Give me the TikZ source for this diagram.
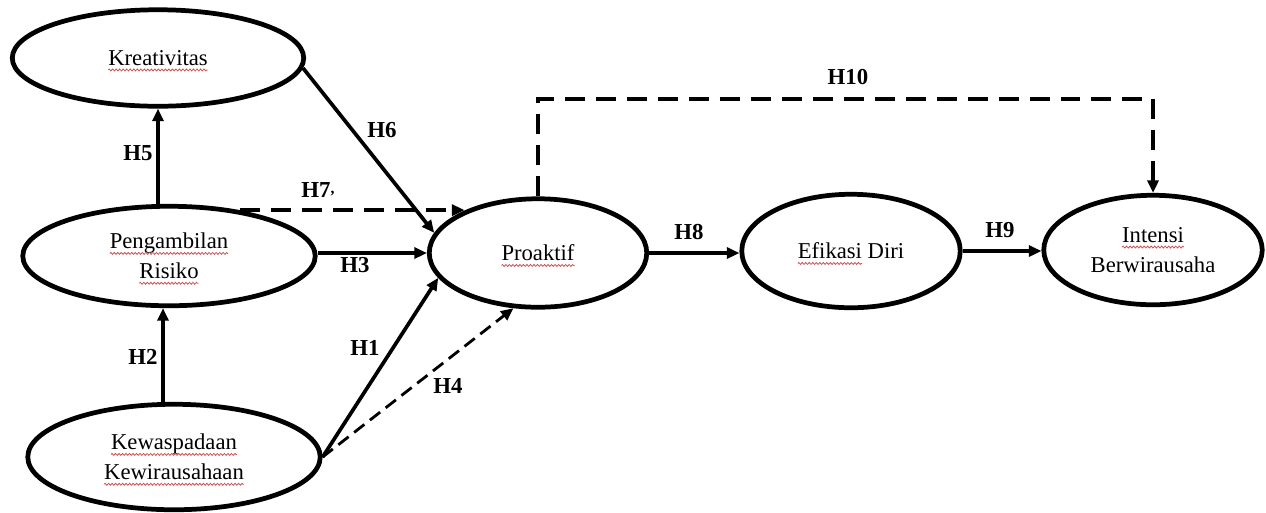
\documentclass[tikz,border=0pt]{standalone}
\usepackage{fontspec}
\setmainfont{Liberation Serif}
\usetikzlibrary{shapes.geometric,arrows.meta,calc,decorations.pathmorphing}
\definecolor{spellred}{RGB}{205,80,80}
\newsavebox\splbox
\newcommand\spl[1]{\sbox\splbox{#1}\leavevmode\rlap{\usebox\splbox}\tikz[overlay,baseline=0pt]\draw[spellred,line width=0.45pt,decorate,decoration={zigzag,segment length=2pt,amplitude=0.55pt}] (0pt,-2.6pt) -- (\wd\splbox,-2.6pt);\hspace*{\wd\splbox}}
\begin{document}
\begin{tikzpicture}[x=0.02cm,y=-0.02cm,
  var/.style={ellipse, draw, line width=2.7pt, inner sep=0pt, align=center,
    font=\fontsize{12.9}{17}\selectfont},
  lab/.style={font=\fontsize{13}{15}\selectfont\bfseries, inner sep=0pt},
  arr/.style={line width=2.1pt, -{Triangle[length=0.25cm,width=0.22cm]}},
  dsh/.style={dash pattern=on 0.4cm off 0.22cm},
  dshthin/.style={line width=1.6pt, dash pattern=on 0.26cm off 0.14cm}]
\useasboundingbox (0,0) rectangle (1266,512);
% variables
\node[var, minimum width=5.83cm, minimum height=1.93cm] (kre) at (158,58) {\spl{Kreativitas}};
\node[var, minimum width=5.85cm, minimum height=1.99cm] (pen) at (169,256) {\spl{Pengambilan}\\\spl{Risiko}};
\node[var, minimum width=5.85cm, minimum height=2.11cm] (kew) at (174,457) {\spl{Kewaspadaan}\\\spl{Kewirausahaan}};
\node[var, minimum width=4.35cm, minimum height=2.17cm] (pro) at (538,253) {\spl{Proaktif}};
\node[var, minimum width=4.37cm, minimum height=2.27cm] (efi) at (851,251) {\spl{Efikasi} Diri};
\node[var, minimum width=4.37cm, minimum height=2.19cm] (int) at (1153,250) {\spl{Intensi}\\Berwirausaha};
% helper coordinates
\coordinate (h2x) at (163,0);
\coordinate (h10y) at (0,99);
% connectors
\draw[arr] (kre.south |- pen.north) -- (kre.south);
\draw[arr] (kew.north -| h2x) -- (pen.south -| h2x);
\draw[arr] (kre.-4) -- (pro.169);
\draw[arr, dsh] (pen.33) -- (pen.33 -| pro.150);
\draw[arr] (pro.west -| pen.east) -- (pro.west);
\draw[arr] (kew.east) -- (pro.194);
\draw[arr, dshthin] (kew.east) -- (pro.246);
\draw[arr] (pro.east) -- (pro.east -| efi.west);
\draw[arr] (efi.east) -- (efi.east -| int.west);
\draw[arr, dsh] (pro.north) -- (pro.north |- h10y) -- (int.north |- h10y) -- (int.north);
% labels
\node[lab] (l5) at (138,153) {H5};
\node[lab] (l6) at (382,130) {H6};
\node[lab] (l7) at (318,190) {H7{\fontsize{9}{9}\selectfont\raisebox{2.5pt}{,}}};
\node[lab] (l3) at (355,265) {H3};
\node[lab] (l2) at (143,357) {H2};
\node[lab] (l1) at (365,348) {H1};
\node[lab] (l4) at (448,386) {H4};
\node[lab] (l8) at (689,232) {H8};
\node[lab] (l9) at (1000,230) {H9};
\node[lab] (l10) at (848,77) {H10};
\end{tikzpicture}
\end{document}
